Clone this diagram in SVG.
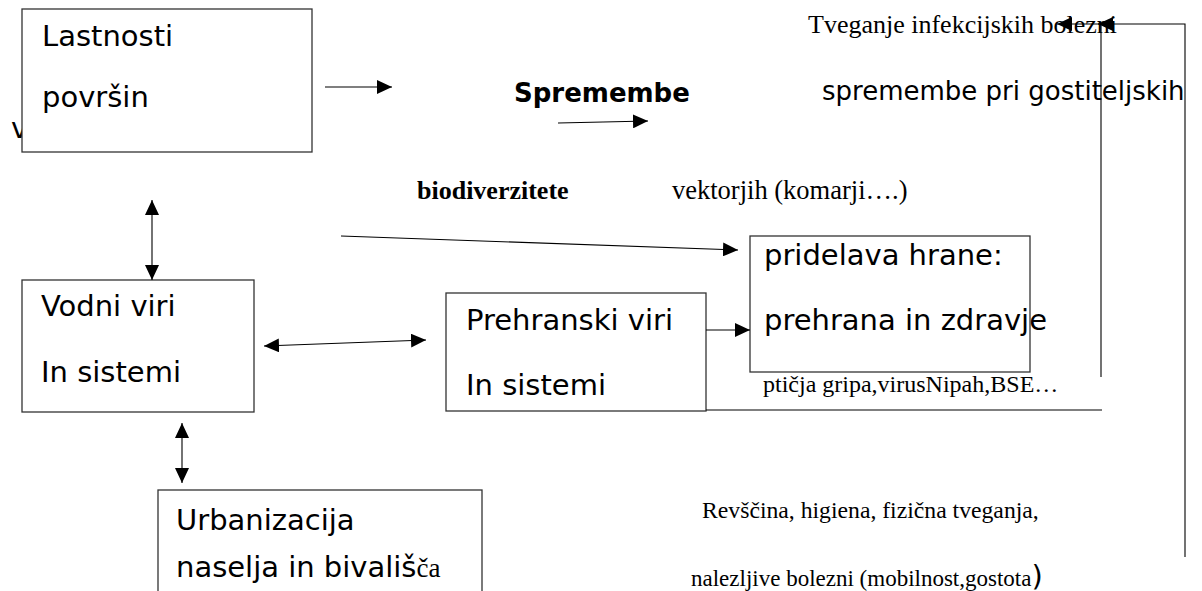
<svg xmlns="http://www.w3.org/2000/svg" width="1202" height="591" viewBox="0 0 1202 591">
<defs>
<style>
.box{fill:#fff;stroke:#333;stroke-width:1.3}
.sans{font-family:"DejaVu Sans",sans-serif;font-size:29px;fill:#000}
.serif{font-family:"Liberation Serif",serif;fill:#000}
.ln{fill:none;stroke:#000;stroke-width:1.1}
</style>
<marker id="ah" markerUnits="userSpaceOnUse" markerWidth="15" markerHeight="14" refX="15" refY="7" orient="auto-start-reverse" viewBox="0 0 15 14">
<path d="M0,0 L15,7 L0,14 z" fill="#000"/>
</marker>
</defs>
<rect width="1202" height="591" fill="#fff"/>
<text class="sans" x="11" y="138">v</text>
<g id="lastnosti">
<rect class="box" x="22" y="9" width="290" height="143"/>
<text class="sans" x="42" y="46">Lastnosti</text>
<text class="sans" x="42" y="107">površin</text>
</g>
<g id="vodni">
<rect class="box" x="22" y="280" width="232" height="132"/>
<text class="sans" x="41" y="316">Vodni viri</text>
<text class="sans" x="41" y="382">In sistemi</text>
</g>
<g id="prehranski">
<rect class="box" x="446" y="293" width="260" height="118"/>
<text class="sans" x="466" y="330">Prehranski viri</text>
<text class="sans" x="466" y="395">In sistemi</text>
</g>
<g id="pridelava">
<rect class="box" x="750" y="236" width="280" height="136"/>
<text class="sans" x="764" y="265">pridelava hrane:</text>
<text class="sans" x="764" y="330">prehrana in zdravje</text>
</g>
<g id="urbanizacija">
<rect class="box" x="158" y="490" width="324" height="110"/>
<text class="sans" x="176" y="530">Urbanizacija</text>
<text class="sans" x="176" y="577">naselja in bivališ<tspan class="serif" font-size="27">ča</tspan></text>
</g>
<g id="labels">
<text x="514" y="102" font-family="DejaVu Sans, sans-serif" font-weight="bold" font-size="26">Spremembe</text>
<text x="822" y="100" font-family="DejaVu Sans, sans-serif" font-size="26">spremembe pri gostiteljskih</text>
<text class="serif" x="417" y="199" font-size="26" font-weight="bold">biodiverzitete</text>
<text class="serif" x="672" y="199" font-size="26.5">vektorjih (komarji….)</text>
<text class="serif" x="808" y="33" font-size="26">Tveganje infekcijskih bolezni</text>
<text class="serif" x="763" y="392" font-size="24">ptičja gripa,virusNipah,BSE…</text>
<text class="serif" x="702" y="518" font-size="23.7">Revščina, higiena, fizična tveganja,</text>
<text class="serif" x="691" y="586" font-size="23">nalezljive bolezni (mobilnost,gostota<tspan font-family="DejaVu Sans, sans-serif" font-size="29">)</tspan></text>
</g>
<g id="connectors">
<path class="ln" d="M325,87 H392" marker-end="url(#ah)"/>
<path class="ln" d="M558,123 L648,121" marker-end="url(#ah)"/>
<path class="ln" d="M341,236 L738,250" marker-end="url(#ah)"/>
<path class="ln" d="M706,330 H750" marker-end="url(#ah)"/>
<path class="ln" d="M152,200 V280" marker-start="url(#ah)" marker-end="url(#ah)"/>
<path class="ln" d="M264,346 L426,340" marker-start="url(#ah)" marker-end="url(#ah)"/>
<path class="ln" d="M182,423 V483" marker-start="url(#ah)" marker-end="url(#ah)"/>
<path class="ln" d="M706,410 H1102"/>
<path class="ln" d="M1101,377 V24 H1057" marker-end="url(#ah)"/>
<path class="ln" d="M1185,557 V24 H1098" marker-end="url(#ah)"/>
</g>
</svg>
